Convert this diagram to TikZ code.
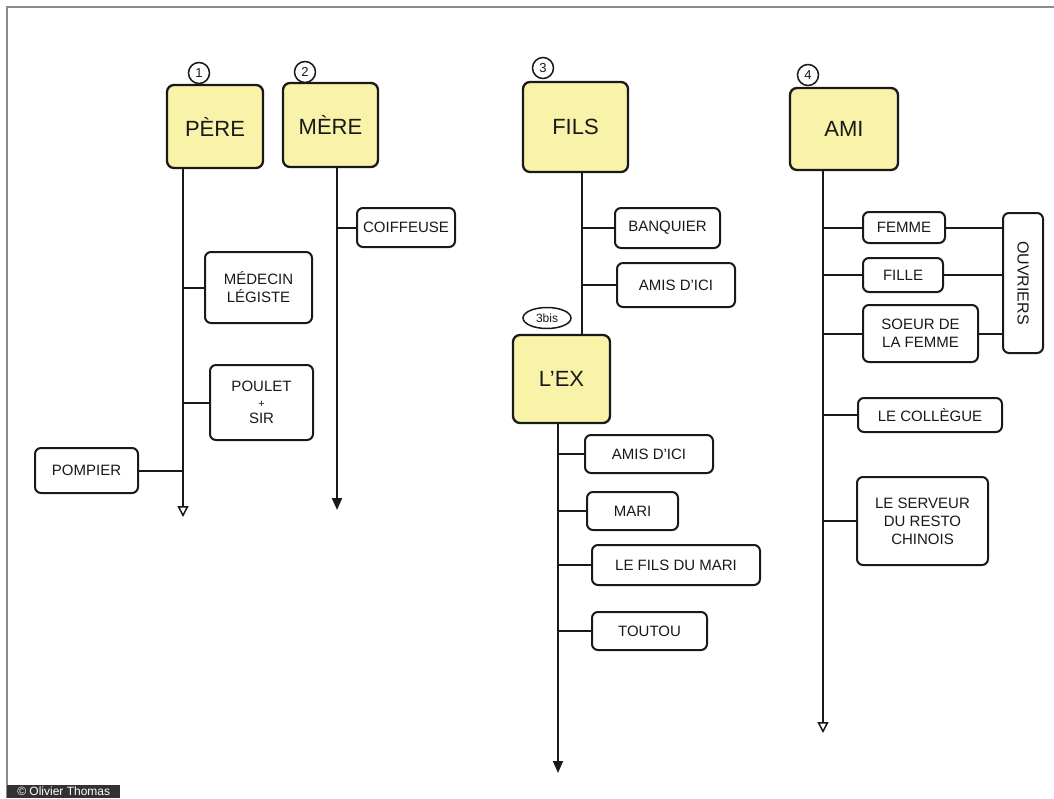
\documentclass[tikz,border=0pt]{standalone}
\usepackage{fontspec}
\setmainfont{Liberation Sans}
\usetikzlibrary{arrows.meta,shapes.geometric}
\definecolor{note}{RGB}{248,243,168}
\definecolor{ink}{RGB}{25,25,25}
\definecolor{framegray}{RGB}{140,140,140}
\definecolor{tag}{RGB}{50,50,50}
\tikzset{
  mainbox/.style={draw=ink, line width=2.3pt, rounded corners=7pt, fill=note, inner sep=0pt, text=ink, font=\fontsize{22}{26}\selectfont, align=center},
  leaf/.style={draw=ink, line width=2pt, rounded corners=6pt, fill=white, inner sep=0pt, text=ink, font=\fontsize{15}{18}\selectfont, align=center},
  num/.style={draw=ink, line width=1.5pt, circle, inner sep=0pt, minimum size=21pt, fill=white, text=ink, font=\fontsize{13}{15}\selectfont},
  spine/.style={draw=ink, line width=2pt},
  openhead/.style={-{Triangle[open, length=11pt, width=11pt, line width=1.5pt]}},
  solidhead/.style={-{Triangle[length=12pt, width=10pt]}},
}
\begin{document}
\begin{tikzpicture}[x=1pt, y=-1pt]
\useasboundingbox (0,0) rectangle (1054,798);
\fill[white] (0,0) rectangle (1054,798);
\draw[framegray, line width=2.2pt] (7,798) -- (7,7) -- (1054,7);

% main boxes
\node[mainbox, minimum width=96pt, minimum height=83pt] (pere) at (215,126.5) {PÈRE};
\node[mainbox, minimum width=95pt, minimum height=84pt] (mere) at (330.5,125) {MÈRE};
\node[mainbox, minimum width=105pt, minimum height=90pt] (fils) at (575.5,127) {FILS};
\node[mainbox, minimum width=97pt, minimum height=88pt] (ex) at (561.5,379) {L'EX};
\node[mainbox, minimum width=108pt, minimum height=82pt] (ami) at (844,129) {AMI};

% number tags
\node[num] (n1) at (199,73) {1};
\node[num] (n2) at (305,72) {2};
\node[num] (n3) at (543,68) {3};
\node[num, ellipse, minimum width=48pt, minimum height=21pt, font=\fontsize{12}{14}\selectfont] (n3b) at (547,318) {3bis};
\node[num] (n4) at (808,75) {4};

% leaves
\node[leaf, minimum width=98pt, minimum height=39pt] (coiffeuse) at (406,227.5) {COIFFEUSE};
\node[leaf, minimum width=107pt, minimum height=71pt] (medecin) at (258.5,287.5) {MÉDECIN\\LÉGISTE};
\node[leaf, minimum width=103pt, minimum height=75pt, font=\fontsize{15}{16}\selectfont] (poulet) at (261.5,402.5) {POULET\\{\fontsize{11}{11}\selectfont +}\\SIR};
\node[leaf, minimum width=103pt, minimum height=45pt] (pompier) at (86.5,470.5) {POMPIER};
\node[leaf, minimum width=105pt, minimum height=40pt] (banquier) at (667.5,228) {BANQUIER};
\node[leaf, minimum width=118pt, minimum height=44pt] (amis1) at (676,285) {AMIS D'ICI};
\node[leaf, minimum width=128pt, minimum height=38pt] (amis2) at (649,454) {AMIS D'ICI};
\node[leaf, minimum width=91pt, minimum height=38pt] (mari) at (632.5,511) {MARI};
\node[leaf, minimum width=168pt, minimum height=40pt] (filsmari) at (676,565) {LE FILS DU MARI};
\node[leaf, minimum width=115pt, minimum height=38pt] (toutou) at (649.5,631) {TOUTOU};
\node[leaf, minimum width=82pt, minimum height=31pt] (femme) at (904,227.5) {FEMME};
\node[leaf, minimum width=80pt, minimum height=34pt] (fille) at (903,275) {FILLE};
\node[leaf, minimum width=115pt, minimum height=57pt] (soeur) at (920.5,333.5) {SOEUR DE\\LA FEMME};
\node[leaf, minimum width=40pt, minimum height=140pt] (ouvriers) at (1023,283) {};
\node[rotate=-90, text=ink, font=\fontsize{16}{18}\selectfont] (ouvlabel) at (ouvriers.center) {OUVRIERS};
\node[leaf, minimum width=144pt, minimum height=34pt] (collegue) at (930,415) {LE COLLÈGUE};
\node[leaf, minimum width=131pt, minimum height=88pt] (serveur) at (922.5,521) {LE SERVEUR\\DU RESTO\\CHINOIS};

% spine end points
\coordinate (pereEnd) at (183,517);
\coordinate (mereEnd) at (337,510);
\coordinate (filsX) at (582,300);
\coordinate (exEnd) at (558,773);
\coordinate (amiEnd) at (823,733);

% spines
\draw[spine, openhead] (pere.south -| pereEnd) -- (pereEnd);
\draw[spine, solidhead] (mere.south -| mereEnd) -- (mereEnd);
\draw[spine] (fils.south -| filsX) -- (ex.north -| filsX);
\draw[spine, solidhead] (ex.south -| exEnd) -- (exEnd);
\draw[spine, openhead] (ami.south -| amiEnd) -- (amiEnd);

% branches
\draw[spine] (medecin.west) -- (medecin.west -| pereEnd);
\draw[spine] (poulet.west) -- (poulet.west -| pereEnd);
\draw[spine] (pompier.east) -- (pompier.east -| pereEnd);
\draw[spine] (coiffeuse.west) -- (coiffeuse.west -| mereEnd);
\draw[spine] (banquier.west) -- (banquier.west -| filsX);
\draw[spine] (amis1.west) -- (amis1.west -| filsX);
\draw[spine] (amis2.west) -- (amis2.west -| exEnd);
\draw[spine] (mari.west) -- (mari.west -| exEnd);
\draw[spine] (filsmari.west) -- (filsmari.west -| exEnd);
\draw[spine] (toutou.west) -- (toutou.west -| exEnd);
\draw[spine] (femme.west) -- (femme.west -| amiEnd);
\draw[spine] (fille.west) -- (fille.west -| amiEnd);
\draw[spine] (soeur.west) -- (soeur.west -| amiEnd);
\draw[spine] (collegue.west) -- (collegue.west -| amiEnd);
\draw[spine] (serveur.west) -- (serveur.west -| amiEnd);
\draw[spine] (femme.east) -- (femme.east -| ouvriers.west);
\draw[spine] (fille.east) -- (fille.east -| ouvriers.west);
\draw[spine] (soeur.east) -- (soeur.east -| ouvriers.west);

% copyright tag
\node[fill=tag, text=white, anchor=south west, minimum width=113pt, minimum height=13pt, inner sep=0pt, font=\fontsize{12}{12}\selectfont] (copy) at (7,798) {© Olivier Thomas};
\end{tikzpicture}
\end{document}
